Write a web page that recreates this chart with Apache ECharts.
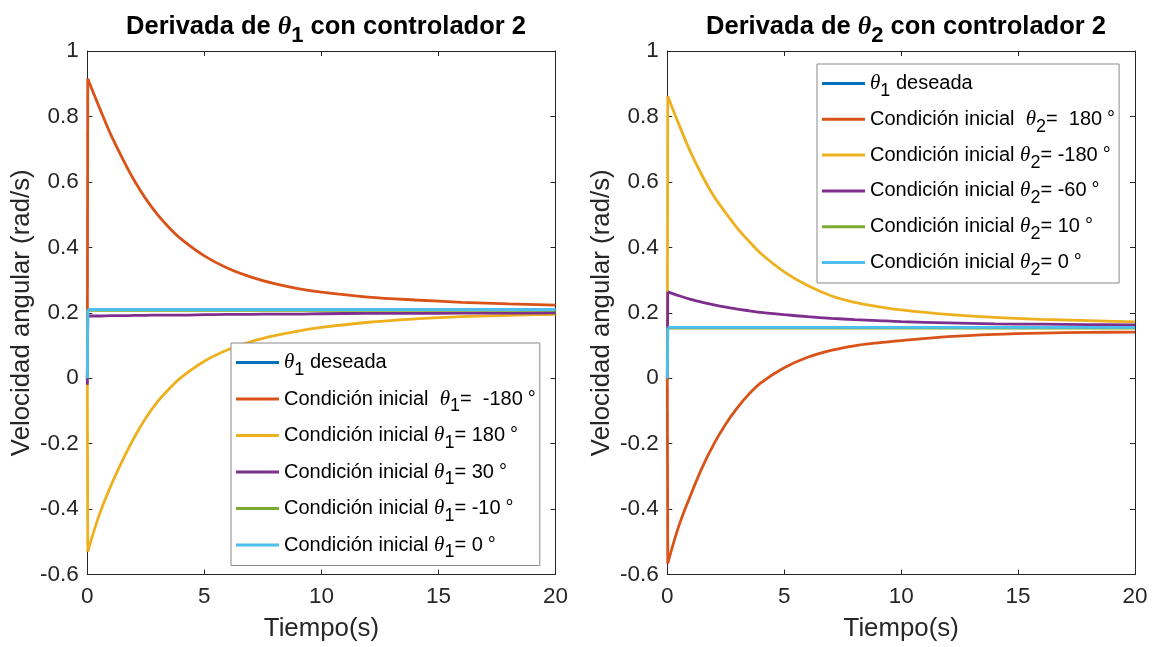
<!DOCTYPE html>
<html>
<head>
<meta charset="utf-8">
<script src="https://cdn.jsdelivr.net/npm/echarts@6/dist/echarts.min.js"></script>
<style>
html,body{margin:0;padding:0;background:#fff;}
#c{width:1158px;height:647px;}
</style>
</head>
<body>
<div id="c"></div>
<script>
// ---- data ----
const time = [0, 0.02, 0.5, 1, 1.5, 2, 2.5, 3, 3.5, 4, 5, 6, 7, 8, 9, 10, 12, 14, 16, 18, 20];
const xTicks = [0, 5, 10, 15, 20];
const yTicks = [-0.6, -0.4, -0.2, 0, 0.2, 0.4, 0.6, 0.8, 1];

const titles = ['Derivada de θ1 con controlador 2', 'Derivada de θ2 con controlador 2'];
const xName = 'Tiempo(s)';
const yName = 'Velocidad angular (rad/s)';

// Left plot: derivative of theta1
const namesLeft = ['θ1 deseada', 'Condición inicial  θ1=  -180°', 'Condición inicial θ1= 180°',
  'Condición inicial θ1= 30°', 'Condición inicial θ1= -10°', 'Condición inicial θ1= 0°'];
const left_desired = [0.21, 0.21, 0.21, 0.21, 0.21, 0.21, 0.21, 0.21, 0.21, 0.21, 0.21, 0.21, 0.21, 0.21, 0.21, 0.21, 0.21, 0.21, 0.21, 0.21, 0.21];
const left_m180 = [0, 0.915, 0.83, 0.745, 0.672, 0.605, 0.548, 0.5, 0.46, 0.426, 0.374, 0.336, 0.309, 0.289, 0.274, 0.263, 0.248, 0.239, 0.232, 0.227, 0.223];
const left_p180 = [0, -0.53, -0.42, -0.33, -0.252, -0.182, -0.122, -0.072, -0.032, 0.002, 0.052, 0.087, 0.112, 0.13, 0.144, 0.155, 0.171, 0.181, 0.188, 0.192, 0.195];
const left_p30 = [-0.02, 0.19, 0.19, 0.191, 0.191, 0.192, 0.192, 0.193, 0.193, 0.193, 0.194, 0.195, 0.195, 0.196, 0.196, 0.197, 0.198, 0.198, 0.199, 0.199, 0.2];
const left_m10 = [0, 0.207, 0.207, 0.207, 0.207, 0.207, 0.207, 0.207, 0.207, 0.207, 0.207, 0.207, 0.207, 0.207, 0.207, 0.207, 0.207, 0.207, 0.207, 0.207, 0.207];
const left_zero = [0, 0.21, 0.21, 0.21, 0.21, 0.21, 0.21, 0.21, 0.21, 0.21, 0.21, 0.21, 0.21, 0.21, 0.21, 0.21, 0.21, 0.21, 0.21, 0.21, 0.21];

// Right plot: derivative of theta2
const namesRight = ['θ1 deseada', 'Condición inicial  θ2=  180°', 'Condición inicial θ2= -180°',
  'Condición inicial θ2= -60°', 'Condición inicial θ2= 10°', 'Condición inicial θ2= 0°'];
const right_desired = [0.155, 0.155, 0.155, 0.155, 0.155, 0.155, 0.155, 0.155, 0.155, 0.155, 0.155, 0.155, 0.155, 0.155, 0.155, 0.155, 0.155, 0.155, 0.155, 0.155, 0.155];
const right_p180 = [0, -0.566, -0.45, -0.357, -0.272, -0.2, -0.14, -0.09, -0.048, -0.014, 0.032, 0.064, 0.085, 0.099, 0.108, 0.115, 0.127, 0.134, 0.138, 0.14, 0.141];
const right_m180 = [0, 0.862, 0.775, 0.69, 0.618, 0.555, 0.505, 0.458, 0.418, 0.381, 0.325, 0.283, 0.252, 0.232, 0.219, 0.209, 0.195, 0.186, 0.18, 0.176, 0.172];
const right_m60 = [0, 0.264, 0.252, 0.241, 0.232, 0.224, 0.217, 0.211, 0.206, 0.201, 0.194, 0.188, 0.183, 0.179, 0.176, 0.173, 0.169, 0.166, 0.165, 0.164, 0.163];
const right_p10 = [0, 0.153, 0.153, 0.153, 0.153, 0.153, 0.153, 0.153, 0.153, 0.153, 0.153, 0.153, 0.153, 0.153, 0.153, 0.153, 0.153, 0.153, 0.153, 0.153, 0.153];
const right_zero = [0, 0.155, 0.155, 0.155, 0.155, 0.155, 0.155, 0.155, 0.155, 0.155, 0.155, 0.155, 0.155, 0.155, 0.155, 0.155, 0.155, 0.155, 0.155, 0.155, 0.155];

const colors = ['#0072BD', '#D95319', '#EDB120', '#7E2F8E', '#77AC30', '#4DBEEE'];

// ---- chart ----
const FONT = 'Liberation Sans';
const AX = '#262626';
const chart = echarts.init(document.getElementById('c'), null, {renderer: 'canvas'});

function richName(name, n, th, sub, deg) {
  const parts = name.split(/θ(\d)/);
  let s = '';
  const wrap = txt => {
    if (!txt) return '';
    if (deg && txt.indexOf('°') >= 0) {
      const p = txt.split('°');
      return (p[0] ? '{' + n + '|' + p[0] + '}' : '') + '{' + deg + '|°}' + (p[1] ? '{' + n + '|' + p[1] + '}' : '');
    }
    return '{' + n + '|' + txt + '}';
  };
  s += wrap(parts[0]);
  s += '{' + th + '|θ}{' + sub + '|' + parts[1] + '}';
  s += wrap(parts[2]);
  return s;
}

const legendRich = {
  n: {fontFamily: FONT, fontSize: 20, color: '#000', lineHeight: 22},
  d: {fontFamily: FONT, fontSize: 20, color: '#000', lineHeight: 22, padding: [0, 0, 0, 5]},
  th: {fontFamily: 'Liberation Serif', fontStyle: 'italic', fontSize: 21, color: '#000', lineHeight: 22},
  s: {fontFamily: FONT, fontSize: 18, color: '#000', lineHeight: 18, padding: [15, 0, 0, 0]}
};
const titleRich = {
  b: {fontFamily: FONT, fontWeight: 'bold', fontSize: 25.5, color: '#000', lineHeight: 26},
  th: {fontFamily: 'Liberation Serif', fontStyle: 'italic', fontSize: 26, color: '#000', lineHeight: 26},
  s: {fontFamily: FONT, fontWeight: 'bold', fontSize: 22, color: '#000', lineHeight: 22, padding: [17, 0, 0, 0]}
};

const grids = [
  {left: 87.3, right: 1158 - 555.5, top: 51, bottom: 647 - 574.5},
  {left: 667.3, right: 1158 - 1135, top: 51, bottom: 647 - 574.5}
];

const lineAx = {show: true, onZero: false, lineStyle: {color: AX, width: 1}};
const tickAx = {show: true, inside: true, length: 5, lineStyle: {color: AX}};
const xAxes = [], yAxes = [];
[0, 1].forEach(g => {
  xAxes.push({
    type: 'value', gridIndex: g, min: xTicks[0], max: xTicks[xTicks.length - 1], interval: 5,
    position: 'bottom',
    name: xName, nameLocation: 'middle', nameGap: 41,
    nameTextStyle: {fontFamily: FONT, fontSize: 25.8, color: AX},
    axisLine: lineAx, axisTick: tickAx,
    axisLabel: {fontFamily: FONT, fontSize: 22.5, color: AX, margin: 11},
    splitLine: {show: false}
  });
  xAxes.push({
    type: 'value', gridIndex: g, min: 0, max: 20, interval: 5, position: 'top',
    axisLine: lineAx, axisTick: tickAx,
    axisLabel: {show: false}, splitLine: {show: false}
  });
  yAxes.push({
    type: 'value', gridIndex: g, min: yTicks[0], max: yTicks[yTicks.length - 1], interval: 0.2,
    position: 'left',
    name: yName, nameLocation: 'middle', nameGap: 52,
    nameTextStyle: {fontFamily: FONT, fontSize: 25.8, color: AX},
    axisLine: lineAx, axisTick: tickAx,
    axisLabel: {fontFamily: FONT, fontSize: 22.5, color: AX, margin: 8.5,
      formatter: v => String(Math.round(v * 10) / 10)},
    splitLine: {show: false}
  });
  yAxes.push({
    type: 'value', gridIndex: g, min: -0.6, max: 1, interval: 0.2, position: 'right',
    axisLine: lineAx, axisTick: tickAx,
    axisLabel: {show: false}, splitLine: {show: false}
  });
});

const leftData = [left_desired, left_m180, left_p180, left_p30, left_m10, left_zero];
const rightData = [right_desired, right_p180, right_m180, right_m60, right_p10, right_zero];

const series = [];
function addSeries(names, datas, g) {
  names.forEach((nm, i) => {
    const pts = time.map((t, k) => [t, datas[i][k]]);
    // initial jump at t = 0 (straight)
    series.push({
      type: 'line', name: '_jump' + g + i, xAxisIndex: g * 2, yAxisIndex: g * 2,
      data: pts.slice(0, 2),
      showSymbol: false, symbol: 'none', smooth: false,
      lineStyle: {color: colors[i], width: 2.8},
      itemStyle: {color: colors[i]},
      emphasis: {disabled: true}, silent: true
    });
    // smooth transient
    series.push({
      type: 'line', name: nm, xAxisIndex: g * 2, yAxisIndex: g * 2,
      data: pts.slice(1),
      showSymbol: false, symbol: 'none', smooth: 0.35,
      lineStyle: {color: colors[i], width: 2.8},
      itemStyle: {color: colors[i]},
      emphasis: {disabled: true}
    });
  });
}
addSeries(namesLeft, leftData, 0);
addSeries(namesRight, rightData, 1);

function makeLegend(names, left, top, gap) {
  return {
    data: names, orient: 'vertical', left: left, top: top,
    icon: 'rect', itemWidth: 43, itemHeight: 3, itemGap: gap,
    padding: [3, 4, 4, 5],
    backgroundColor: '#fff', borderColor: '#8a8a8a', borderWidth: 1,
    selectedMode: false,
    formatter: name => richName(name, 'n', 'th', 's', 'd'),
    textStyle: {rich: legendRich, padding: [0, 0, 0, 0]}
  };
}

chart.setOption({
  animation: false,
  backgroundColor: '#fff',
  color: colors,
  title: [
    {text: richName(titles[0], 'b', 'th', 's'), left: 321, top: 9, textAlign: 'center',
     textStyle: {rich: titleRich}},
    {text: richName(titles[1], 'b', 'th', 's'), left: 901, top: 9, textAlign: 'center',
     textStyle: {rich: titleRich}}
  ],
  grid: grids,
  xAxis: xAxes,
  yAxis: yAxes,
  legend: [makeLegend(namesLeft, 231, 343, 3.5), makeLegend(namesRight, 817, 64, 2.8)],
  series: series
});
</script>
</body>
</html>
